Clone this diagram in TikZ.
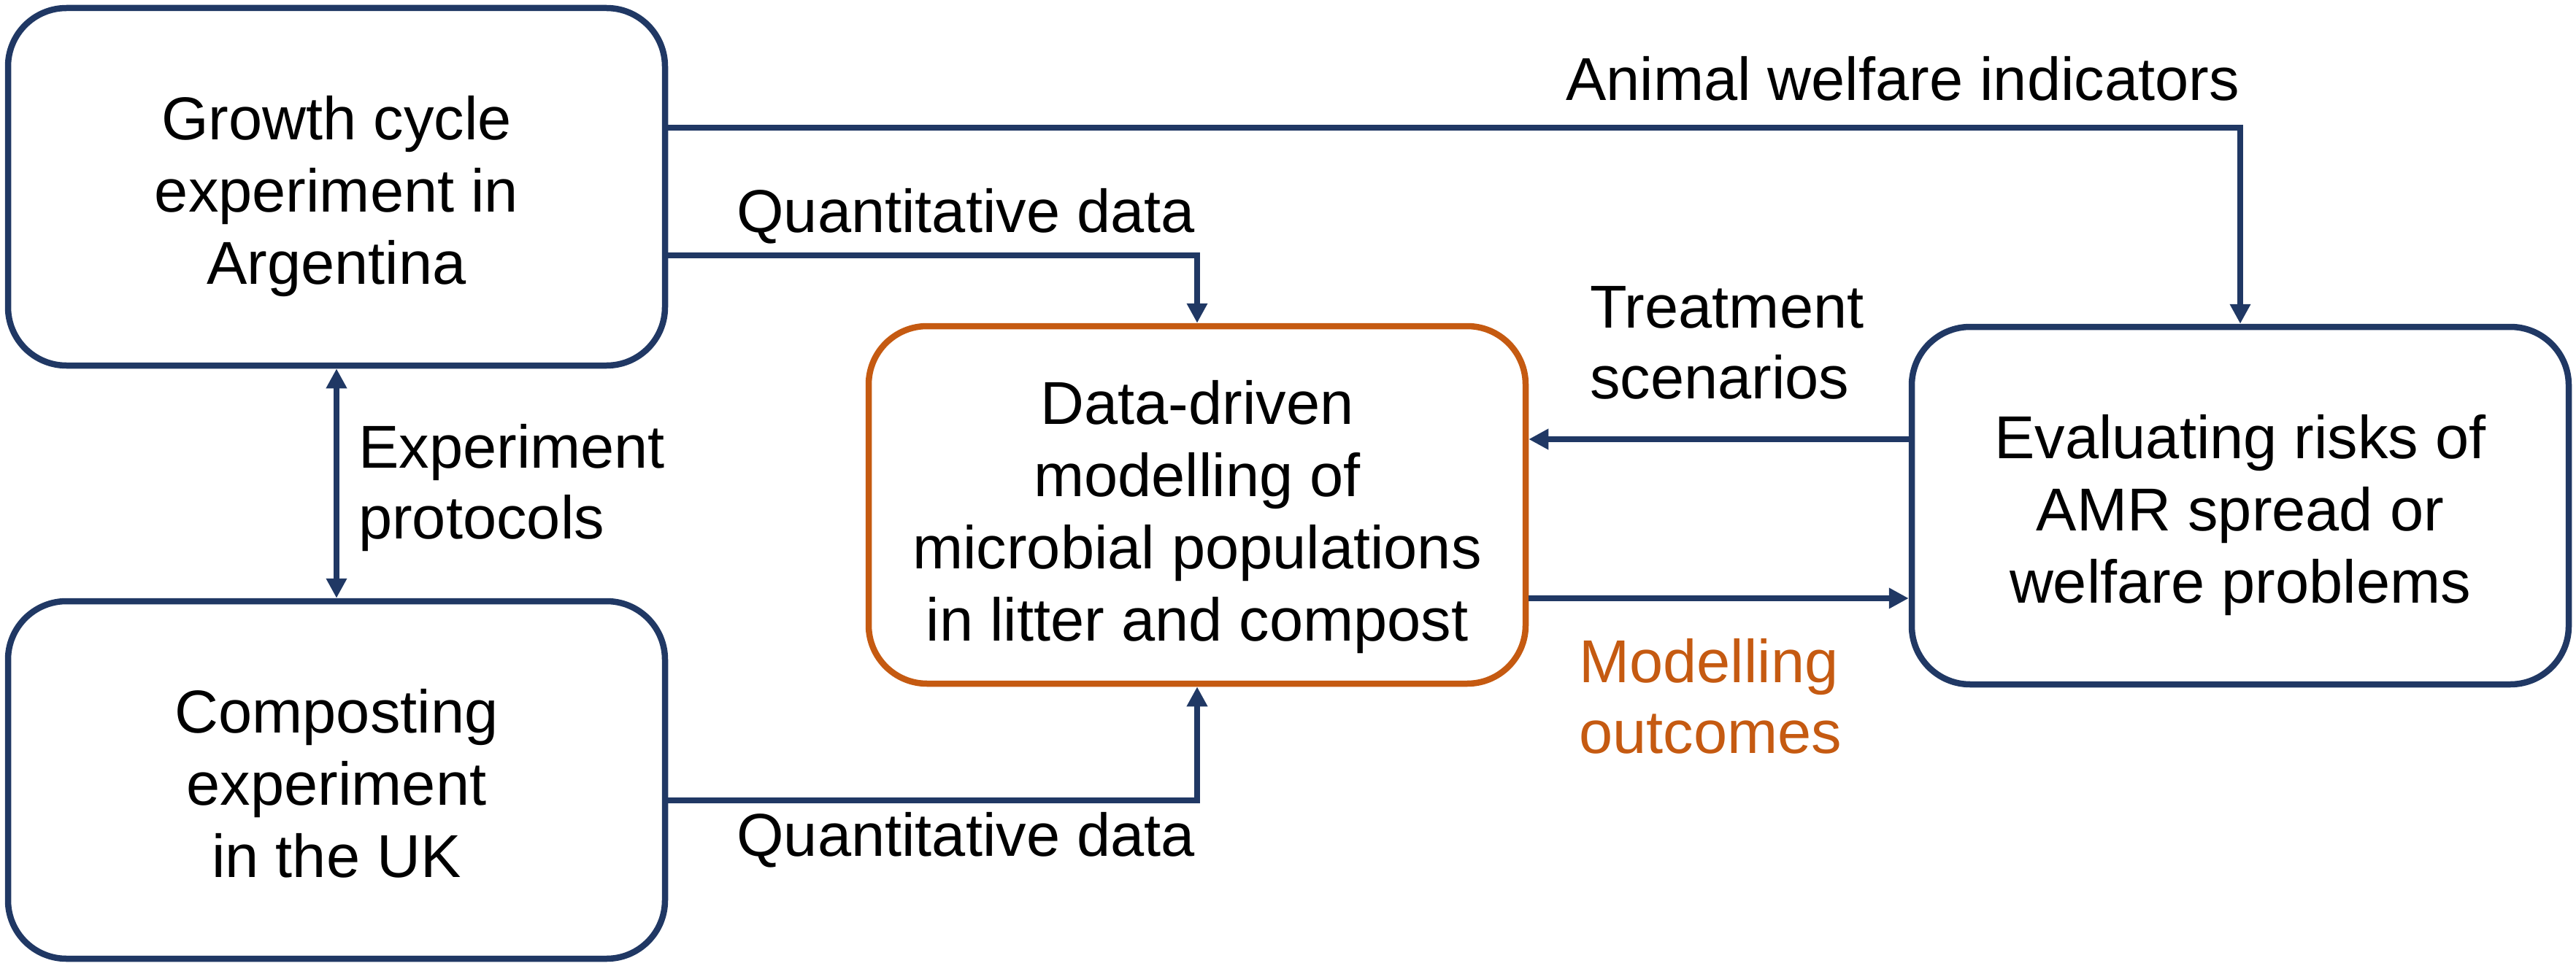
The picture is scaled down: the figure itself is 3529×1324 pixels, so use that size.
\documentclass[tikz,border=0pt]{standalone}
\usepackage{fontspec}
\setmainfont{Liberation Sans}
\usetikzlibrary{arrows.meta}
\definecolor{navy}{HTML}{203864}
\definecolor{rust}{HTML}{C55A11}
\newcommand\tstr{\rule{0pt}{90pt}}
\newcommand\tstrc{\rule{0pt}{98pt}}
\newcommand\bstr{\rule[-22pt]{0pt}{22pt}}
\begin{document}
\begin{tikzpicture}[x=1pt,y=-1pt,
  box/.style={draw=navy, line width=8.5pt, rounded corners=80pt, minimum width=900pt, minimum height=490pt, inner sep=0pt, align=center, font=\fontsize{83}{99}\selectfont, fill=white},
  tip/.tip={Triangle[length=27pt,width=27pt]},
  conn/.style={draw=navy, line width=8.5pt, -tip},
  lbl/.style={font=\fontsize{83}{97}\selectfont, inner sep=0pt}]
\path[use as bounding box] (0,0) rectangle (3529,1324);

\node[box] (A) at (461,256) {\tstr Growth cycle\\experiment in\\Argentina\bstr};
\node[box] (B) at (461,1069) {\tstr Composting\\experiment\\in the UK\bstr};
\node[box, draw=rust] (C) at (1640,692) {\tstrc Data-driven\\modelling of\\microbial populations\\in litter and compost\bstr};
\node[box] (D) at (3069,693) {\tstr Evaluating risks of\\AMR spread or\\welfare problems\bstr};

\coordinate (yad) at (0,175);
\coordinate (yac) at (0,350);
\coordinate (ybc) at (0,1097);
\coordinate (ydc) at (0,602);
\coordinate (ycd) at (0,820);

\draw[conn] (A.east |- yad) -| (D.north);
\draw[conn] (A.east |- yac) -| (C.north);
\draw[conn] (B.east |- ybc) -| (C.south);
\draw[conn, tip-tip] (A.south) -- (B.north);
\draw[conn] (D.west |- ydc) -- (C.east |- ydc);
\draw[conn] (C.east |- ycd) -- (D.west |- ycd);

\node[lbl, anchor=base east] (l1) at (3068,138) {Animal welfare indicators};
\node[lbl, anchor=base east] (l2) at (1637,319) {Quantitative data};
\node[lbl, anchor=base east] (l3) at (1637,1173) {Quantitative data};
\node[lbl, anchor=north west, align=left] (l4) at (491,551) {\tstr Experiment\\protocols};
\node[lbl, anchor=north west, align=left] (l5) at (2178,359) {\tstr Treatment\\scenarios};
\node[lbl, anchor=north west, align=left, text=rust] (l6) at (2163,845) {\tstr Modelling\\outcomes};
\end{tikzpicture}
\end{document}
